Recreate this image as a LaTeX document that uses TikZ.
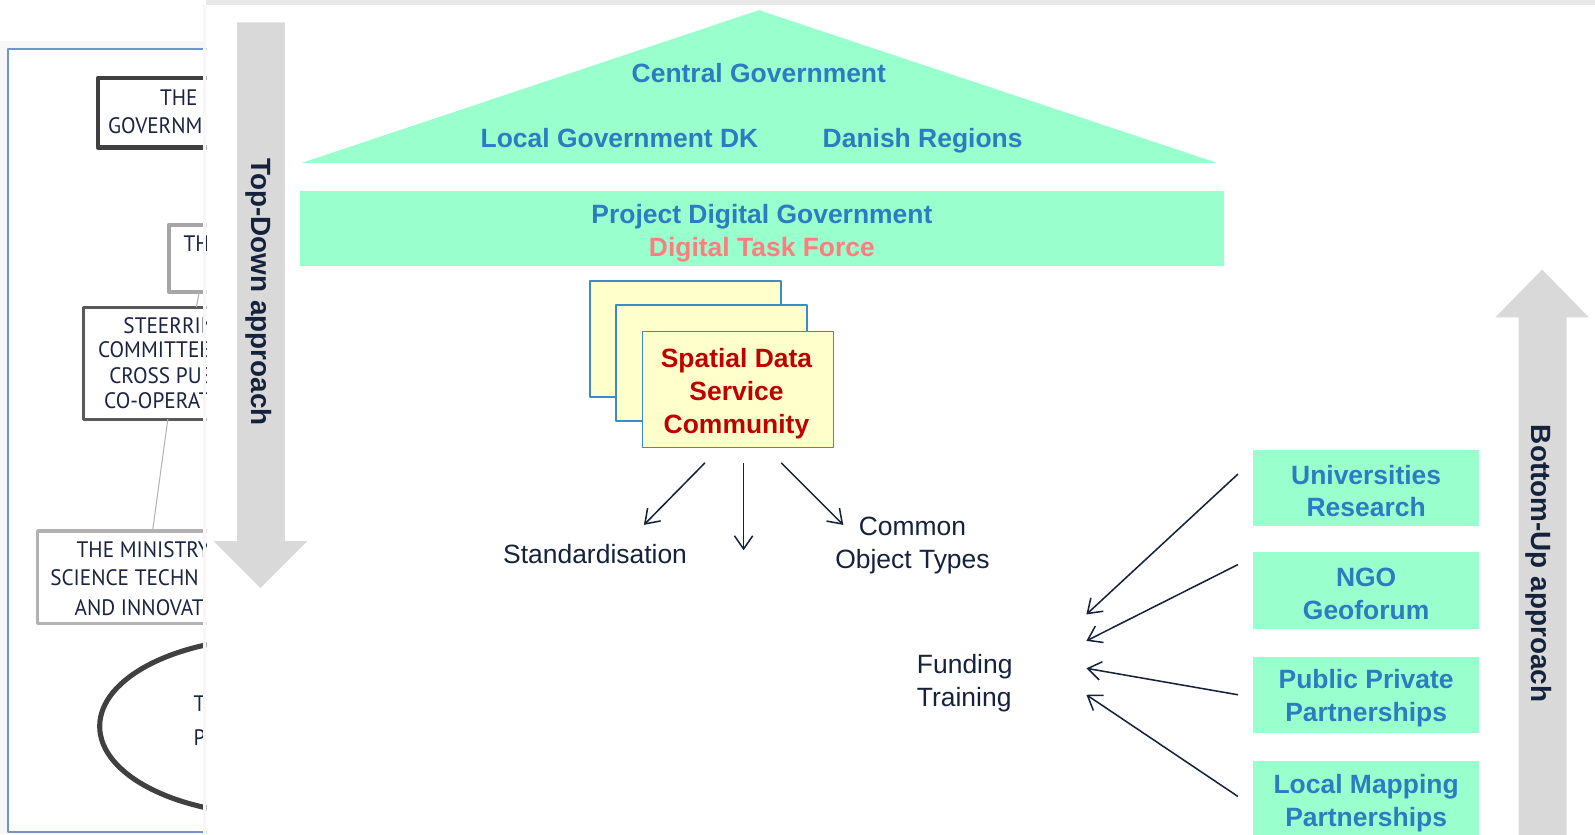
\documentclass[tikz,border=0pt]{standalone}
\usepackage{fontspec}
\setmainfont{Liberation Sans}
\newfontfamily\slidefont[FakeStretch=0.95]{PT Sans}
\usetikzlibrary{arrows.meta}

\definecolor{mint}{HTML}{99FFCC}
\definecolor{govblue}{HTML}{2B7CC1}
\definecolor{taskpink}{HTML}{FF7C80}
\definecolor{sdscred}{HTML}{C00000}
\definecolor{paleyellow}{HTML}{FFFFCC}
\definecolor{sheetedge}{HTML}{3A8CC8}
\definecolor{arrowgray}{HTML}{D9D9D9}
\definecolor{ink}{HTML}{14223C}
\definecolor{oldink}{HTML}{1A2440}
\definecolor{frameblue}{HTML}{6D95CC}

\begin{document}
\begin{tikzpicture}[x=0.5pt,y=-0.5pt,line join=round,
  blue label/.style={text=govblue,font=\fontsize{13}{16}\selectfont\bfseries,align=center,inner sep=0pt},
  plain label/.style={text=ink,font=\fontsize{13}{16}\selectfont,align=center,inner sep=0pt},
  old line/.style={anchor=west,inner sep=0pt,text=oldink,font=\slidefont\fontsize{11}{13}\selectfont},
  mintbox/.style={fill=mint,inner sep=0pt},
  sidebox/.style={mintbox,minimum width=111pt,minimum height=37.5pt},
  sheet/.style={draw=sheetedge,line width=0.8pt,fill=paleyellow,minimum width=94pt,minimum height=57pt,inner sep=0pt},
  red label/.style={blue label,text=sdscred},
  thin arrow/.style={draw=ink,line width=0.75pt,-{Straight Barb[length=6.5pt,width=9pt]}},
  approach/.style={text=ink,font=\fontsize{13.7}{16}\selectfont\bfseries,rotate=-90,inner sep=0pt}]
\useasboundingbox (0,0) rectangle (1568,820);
\fill[white] (0,0) rectangle (1568,820);

% the older slide behind, cut by the front one
\begin{scope}
  \clip (0,0) rectangle (203,820);
  \fill[black!3] (0,40) rectangle (260,820);
  \draw[draw=frameblue,fill=white,line width=0.75pt] (8,48) rectangle (260,818);
  \draw[draw=black!75,line width=2pt] (96,77) rectangle (260,145);
  \draw[draw=black!35,line width=2pt] (166,221) rectangle (260,287);
  \draw[draw=black!65,line width=1.5pt] (82,302) rectangle (260,412);
  \draw[draw=black!30,line width=1.5pt] (37,522) rectangle (260,613);
  \draw[draw=black!75,line width=2.5pt] (270,714) ellipse [x radius=172,y radius=87];
  \coordinate (thfoot) at (196,287);
  \coordinate (sthead) at (193,302);
  \coordinate (stfoot) at (165,412);
  \coordinate (minhead) at (150,522);
  \draw[black!30,line width=0.5pt] (thfoot) -- (sthead);
  \draw[black!30,line width=0.5pt] (stfoot) -- (minhead);
  \node[old line] (gov1) at (157,96) {THE};
  \node[old line] (gov2) at (106,124) {GOVERNM};
  \node[old line] (th1) at (180,240) {TH};
  \node[old line] (st1) at (121,320) {STEERRING};
  \node[old line] (st2) at (96,344) {COMMITTEE};
  \node[old line] (st3) at (107,369) {CROSS PUB};
  \node[old line] (st4) at (102,394) {CO-OPERATI};
  \node[old line] (min1) at (75,540) {THE MINISTRY};
  \node[old line] (min2) at (49,568) {SCIENCE TECHN};
  \node[old line] (min3) at (73,597) {AND INNOVAT};
  \node[old line] (par1) at (190,692) {T};
  \node[old line] (par2) at (190,725) {P};
\end{scope}

% front slide
\fill[black!9] (203,0) rectangle (1568,5);
\fill[black!3] (200,5) rectangle (203,820);

% grey direction arrows
\fill[arrowgray] (233,22) -- (280,22) -- (280,532) -- (302,532) -- (256,578) -- (210,532) -- (233,532) -- cycle;
\fill[arrowgray] (1493,830) -- (1493,312) -- (1470,312) -- (1516,265) -- (1562,312) -- (1540,312) -- (1540,830) -- cycle;
\node[approach] (topdown) at (254,287) {Top-Down approach};
\node[approach] (bottomup) at (1513,554) {Bottom-Up approach};

% roof and bar
\fill[mint] (746,10) -- (1196,160) -- (297,160) -- cycle;
\node[blue label] (central) at (746,72) {Central Government};
\node[blue label] (local) at (609,136) {Local Government DK};
\node[blue label] (regions) at (907,138) {Danish Regions};
\node[mintbox,minimum width=454pt,minimum height=36.5pt] (digital) at (749,224.5) {};
\node[blue label] (digitaltext) at (749,229.5) {Project Digital Government\\\textcolor{taskpink}{Digital Task Force}};

% stacked sheets
\node[sheet] (sheetback) at (674,333) {};
\node[sheet] (sheetmid) at (699.5,357) {};
\node[sheet] (sdsc) at (725.5,383) {};
\node[red label] (sdsctext) at (724,387) {Spatial Data\\Service\\Community};

\coordinate (stdtail) at (693,455);
\coordinate (stdtip) at (633,516);
\coordinate (midtail) at (731,455);
\coordinate (midtip) at (731,541);
\coordinate (cottail) at (768,455);
\coordinate (cottip) at (829,516);
\draw[thin arrow] (stdtail) -- (stdtip);
\draw[thin arrow] (midtail) -- (midtip);
\draw[thin arrow] (cottail) -- (cottip);
\node[plain label] (std) at (585,545) {Standardisation};
\node[plain label] (cot) at (897,536) {Common\\Object Types};
\node[plain label,align=left,anchor=west] (fund) at (901,671.5) {Funding\\Training};

% bottom-up partners
\foreach \src/\yc/\txt in {uni/479.5/Universities\\Research,ngo/580.5/NGO\\Geoforum,
    ppp/683/Public Private\\Partnerships,lmp/786/Local Mapping\\Partnerships}{
  \node[sidebox] (\src) at (1343,\yc) {};
  \node[blue label,yshift=-1.7pt] (\src text) at (\src) {\txt};
}
\foreach \src/\ys/\ye in {uni/466/604,ngo/555/630,ppp/683/657,lmp/783/683}{
  \coordinate (\src tail) at (1217,\ys);
  \coordinate (\src tip) at (1068,\ye);
  \draw[thin arrow] (\src tail) -- (\src tip);
}
\end{tikzpicture}
\end{document}
